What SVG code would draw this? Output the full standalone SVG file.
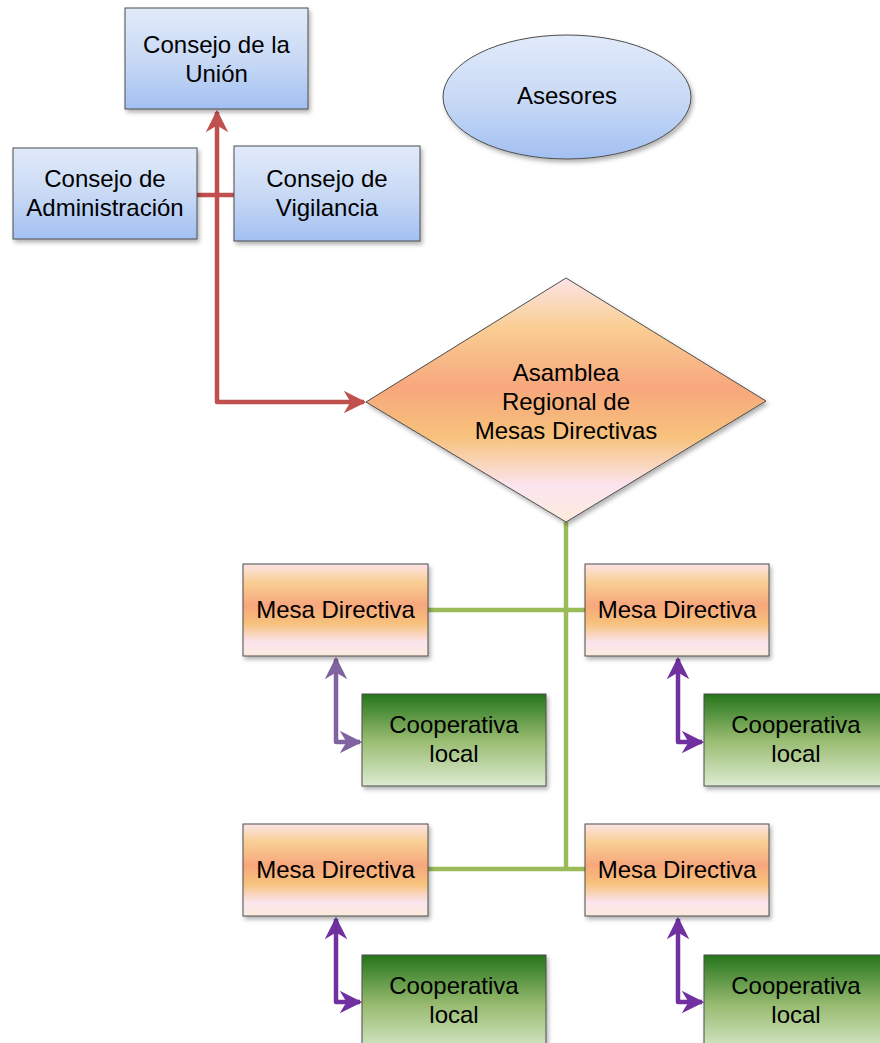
<svg xmlns="http://www.w3.org/2000/svg" width="880" height="1043" viewBox="0 0 880 1043">
<defs>
<style>
text{font-family:"Liberation Sans",Arial,sans-serif;font-size:24px;fill:#000;text-anchor:middle}
.box{stroke:#4d4d4d;stroke-width:1;filter:url(#sh)}
.blue{fill:url(#gBlue)}
.org{fill:url(#gOrg)}
.grn{fill:url(#gGrn)}
.red{fill:none;stroke:#C0504D;stroke-width:4.5;stroke-linejoin:round}
.grl{fill:none;stroke:#9BBB59;stroke-width:4.5}
.pur{fill:none;stroke:#7030A0;stroke-width:4.5;stroke-linejoin:round}
.pur2{fill:none;stroke:#8064A2;stroke-width:4.5;stroke-linejoin:round}
</style>
<linearGradient id="gBlue" x1="0" y1="0" x2="0" y2="1">
<stop offset="0" stop-color="#E1EAFA"/>
<stop offset="0.5" stop-color="#C9DAF5"/>
<stop offset="1" stop-color="#A3C0F2"/>
</linearGradient>
<linearGradient id="gOrg" x1="0" y1="0" x2="0" y2="1">
<stop offset="0" stop-color="#FCE4E6"/>
<stop offset="0.2" stop-color="#F9CE94"/>
<stop offset="0.45" stop-color="#F7A77C"/>
<stop offset="0.65" stop-color="#F7C27C"/>
<stop offset="0.85" stop-color="#FBE4EE"/>
<stop offset="1" stop-color="#FCEBDC"/>
</linearGradient>
<linearGradient id="gGrn" x1="0" y1="0" x2="0" y2="1">
<stop offset="0" stop-color="#25751B"/>
<stop offset="0.5" stop-color="#98BB70"/>
<stop offset="1" stop-color="#DCEBD0"/>
</linearGradient>
<filter id="sh" x="-10%" y="-10%" width="125%" height="130%">
<feDropShadow dx="2" dy="3" stdDeviation="2" flood-color="#000" flood-opacity="0.3"/>
</filter>
<marker id="aRed" viewBox="0 0 10 10" refX="9" refY="5" markerWidth="5" markerHeight="5" orient="auto-start-reverse" markerUnits="strokeWidth">
<path d="M0,0 L10,5 L0,10 L3,5 z" fill="#C0504D"/>
</marker>
<marker id="aPur" viewBox="0 0 10 10" refX="9" refY="5" markerWidth="5" markerHeight="5" orient="auto-start-reverse" markerUnits="strokeWidth">
<path d="M0,0 L10,5 L0,10 L3,5 z" fill="#7030A0"/>
</marker>
<marker id="aPur2" viewBox="0 0 10 10" refX="9" refY="5" markerWidth="5" markerHeight="5" orient="auto-start-reverse" markerUnits="strokeWidth">
<path d="M0,0 L10,5 L0,10 L3,5 z" fill="#8064A2"/>
</marker>
</defs>
<rect width="880" height="1043" fill="#fff"/>

<g id="connectors">
<path class="red" d="M217,112 L217,402 L364,402" marker-start="url(#aRed)" marker-end="url(#aRed)"/>
<path class="red" d="M197,195 L234,195"/>
<path class="grl" d="M566,522 L566,871"/>
<path class="grl" d="M428,610 L585,610"/>
<path class="grl" d="M428,869 L585,869"/>
<path class="pur2" d="M336,659 L336,742 L360,742" marker-start="url(#aPur2)" marker-end="url(#aPur2)"/>
<path class="pur" d="M678,659 L678,742 L702,742" marker-start="url(#aPur)" marker-end="url(#aPur)"/>
<path class="pur" d="M336,919 L336,1002 L360,1002" marker-start="url(#aPur)" marker-end="url(#aPur)"/>
<path class="pur" d="M678,919 L678,1002 L702,1002" marker-start="url(#aPur)" marker-end="url(#aPur)"/>
</g>

<g id="consejo-union">
<rect class="box blue" x="125" y="8" width="183" height="101"/>
<text x="216.5" y="53">Consejo de la</text>
<text x="216.5" y="82">Unión</text>
</g>
<g id="consejo-admin">
<rect class="box blue" x="13" y="148" width="184" height="91"/>
<text x="105" y="187">Consejo de</text>
<text x="105" y="216">Administración</text>
</g>
<g id="consejo-vigilancia">
<rect class="box blue" x="234" y="146" width="186" height="95"/>
<text x="327" y="187">Consejo de</text>
<text x="327" y="216">Vigilancia</text>
</g>
<g id="asesores">
<ellipse class="box blue" cx="567" cy="97" rx="124" ry="62"/>
<text x="567" y="104">Asesores</text>
</g>
<g id="asamblea">
<polygon class="box org" points="566,278 766,401 566,522 366,402"/>
<text x="566" y="381">Asamblea</text>
<text x="566" y="410">Regional de</text>
<text x="566" y="439">Mesas Directivas</text>
</g>

<g id="mesa1">
<rect class="box org" x="243" y="564" width="185" height="92"/>
<text x="335.5" y="618">Mesa Directiva</text>
</g>
<g id="mesa2">
<rect class="box org" x="585" y="564" width="184" height="92"/>
<text x="677" y="618">Mesa Directiva</text>
</g>
<g id="mesa3">
<rect class="box org" x="243" y="824" width="185" height="92"/>
<text x="335.5" y="878">Mesa Directiva</text>
</g>
<g id="mesa4">
<rect class="box org" x="585" y="824" width="184" height="92"/>
<text x="677" y="878">Mesa Directiva</text>
</g>

<g id="coop1">
<rect class="box grn" x="362" y="694" width="184" height="92"/>
<text x="454" y="733">Cooperativa</text>
<text x="454" y="762">local</text>
</g>
<g id="coop2">
<rect class="box grn" x="704" y="694" width="184" height="92"/>
<text x="796" y="733">Cooperativa</text>
<text x="796" y="762">local</text>
</g>
<g id="coop3">
<rect class="box grn" x="362" y="955" width="184" height="100"/>
<text x="454" y="994">Cooperativa</text>
<text x="454" y="1023">local</text>
</g>
<g id="coop4">
<rect class="box grn" x="704" y="955" width="184" height="100"/>
<text x="796" y="994">Cooperativa</text>
<text x="796" y="1023">local</text>
</g>
</svg>
